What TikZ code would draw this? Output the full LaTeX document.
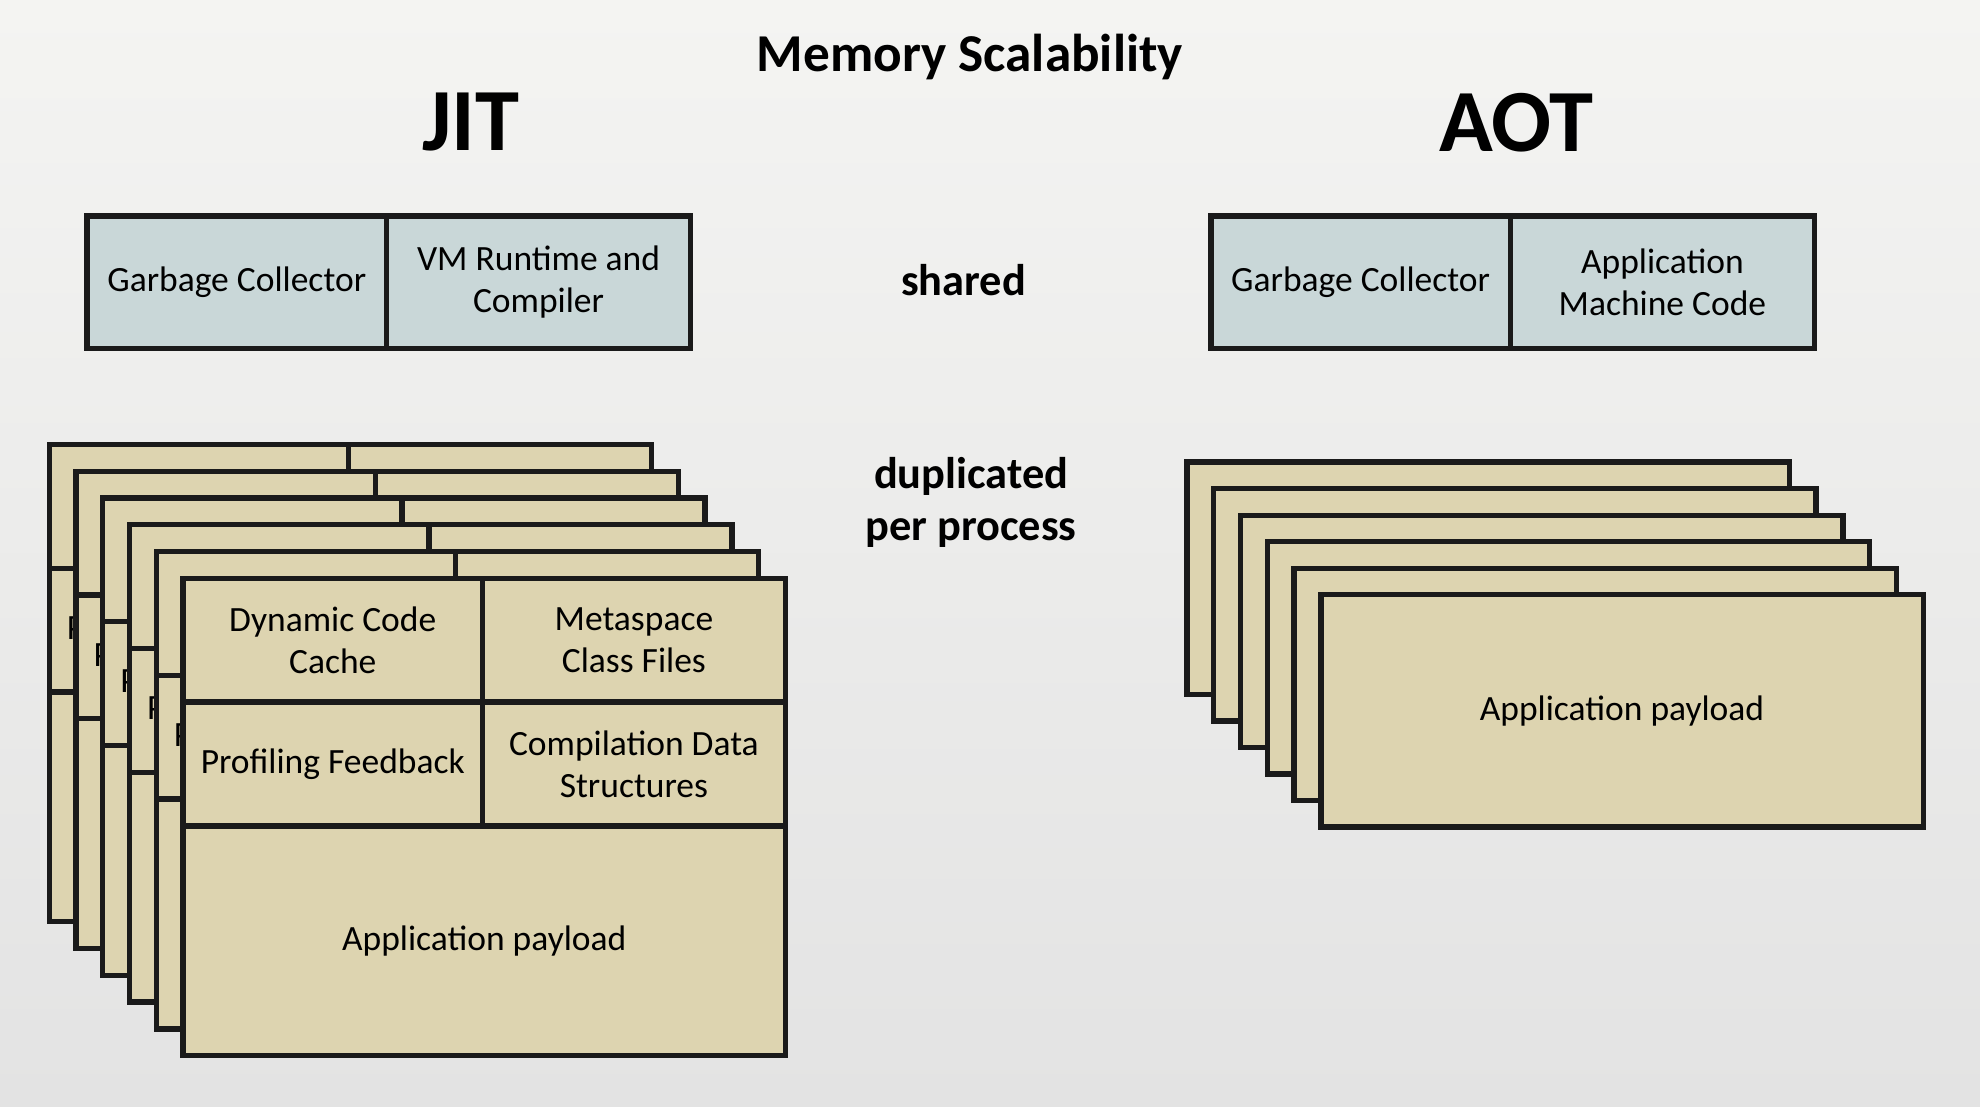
\documentclass[tikz,border=0pt]{standalone}
\usepackage{fontspec}
\setmainfont{Carlito}
\usetikzlibrary{positioning}
\definecolor{boxtan}{HTML}{DDD4B0}
\definecolor{boxblue}{HTML}{C9D7D8}
\definecolor{edge}{HTML}{1A1A1A}
\definecolor{bgtop}{HTML}{F4F4F2}
\definecolor{bgbot}{HTML}{E3E3E3}
\begin{document}
\begin{tikzpicture}[
    cell/.style={draw=edge, line width=1.2pt, fill=boxtan, inner sep=0pt, outer sep=0pt,
        align=center, font=\fontsize{8}{9.4}\selectfont, minimum height=0.98cm},
    sharedcell/.style={cell, fill=boxblue, minimum height=1.05cm},
    heading/.style={font=\bfseries\fontsize{20}{24}\selectfont},
    label/.style={align=center, font=\bfseries\fontsize{10}{11.7}\selectfont}
]
    \shade[top color=bgtop, middle color=bgtop, bottom color=bgbot] (0, 0) rectangle (15.68, -8.76);
    \useasboundingbox (0, 0) rectangle (15.68, -8.76);

    \node[font=\bfseries\fontsize{12}{14}\selectfont] (title) at (7.68, -0.45) {Memory Scalability};
    \node[heading] (jit) at (3.73, -0.97) {JIT};
    \node[heading] (aot) at (12.01, -0.97) {AOT};

    % shared parts
    \node[sharedcell, minimum width=2.37cm, anchor=north west] (gcjit) at (0.69, -1.71) {Garbage Collector};
    \node[sharedcell, minimum width=2.41cm, right=0pt of gcjit] (vm) {VM Runtime and\\Compiler};
    \node[sharedcell, minimum width=2.37cm, anchor=north west] (gcaot) at (9.59, -1.71) {Garbage Collector};
    \node[sharedcell, minimum width=2.41cm, right=0pt of gcaot] (amc) {Application\\Machine Code};
    \node[label] (shared) at (7.63, -2.22) {shared};
    \node[label] (dup) at (7.69, -3.98) {duplicated\\per process};

    % JIT processes
    \foreach \i in {0,...,5} {
        \begin{scope}[shift={(0.212*\i, -0.212*\i)}]
            \node[cell, minimum width=2.37cm, anchor=north west] (dcc\i) at (0.39, -3.52) {Dynamic Code\\Cache};
            \node[cell, minimum width=2.40cm, right=0pt of dcc\i] (meta\i) {Metaspace\\Class Files};
            \node[cell, minimum width=2.37cm, below=0pt of dcc\i] (prof\i) {Profiling Feedback};
            \node[cell, minimum width=2.40cm, below=0pt of meta\i] (comp\i) {Compilation Data\\Structures};
            \node[cell, minimum width=4.77cm, minimum height=1.82cm, anchor=north west] (pay\i) at (prof\i.south west) {Application payload};
        \end{scope}
    }

    % AOT processes
    \foreach \i in {0,...,4}
        \node[cell, minimum width=4.77cm, minimum height=1.84cm, anchor=north west] (aop\i) at ({9.40 + 0.212*\i}, {-3.66 - 0.21*\i}) {};
    \node[cell, minimum width=4.77cm, minimum height=1.84cm, anchor=north west] (aop5) at (10.46, -4.71) {Application payload};
\end{tikzpicture}
\end{document}
